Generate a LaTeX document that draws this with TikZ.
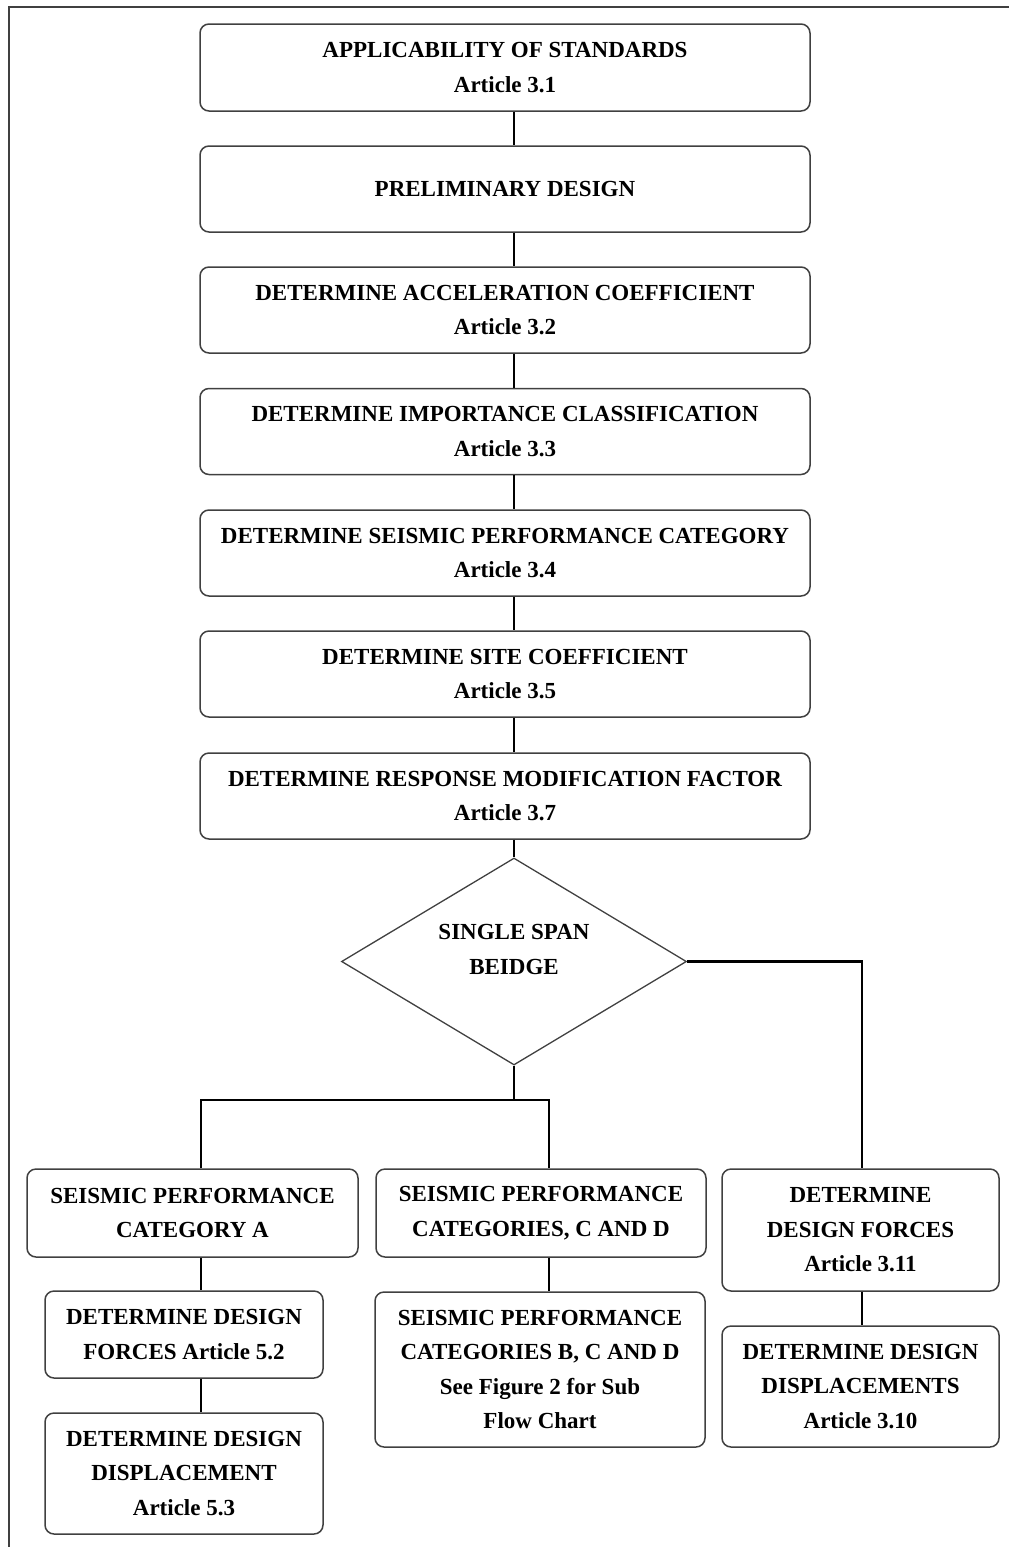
\documentclass[tikz,border=0pt]{standalone}
\usepackage{fontspec}
\setmainfont{Liberation Serif}
\usetikzlibrary{shapes.geometric,calc}

\tikzset{
  box/.style={draw=black!75, line width=1.5pt, rounded corners=9pt,
    inner sep=0pt, align=center,
    font=\fontsize{23}{34.5}\selectfont\bfseries},
  decision/.style={draw=black!75, line width=1.3pt, diamond, inner sep=0pt,
    minimum width=345pt, minimum height=207pt},
  conn/.style={draw=black, line width=2.8pt},
  frameline/.style={draw=black!75, line width=1.8pt},
  lbl/.style={align=center, font=\fontsize{23}{34.5}\selectfont\bfseries}
}

\begin{document}
\begin{tikzpicture}[x=1pt,y=-1pt]
\useasboundingbox (0,0) rectangle (1009,1547);

% outer frame (left and top edges)
\draw[frameline] (9,1547) -- (9,7) -- (1009,7);

% main column of steps
\node[box, minimum width=610pt, minimum height=87pt] (b1) at (505,67.5)
  {APPLICABILITY OF STANDARDS\\Article 3.1};
\node[box, minimum width=610pt, minimum height=86pt] (b2) at (505,189)
  {PRELIMINARY DESIGN};
\node[box, minimum width=610pt, minimum height=86pt] (b3) at (505,310)
  {DETERMINE ACCELERATION COEFFICIENT\\Article 3.2};
\node[box, minimum width=610pt, minimum height=86pt] (b4) at (505,431.5)
  {DETERMINE IMPORTANCE CLASSIFICATION\\Article 3.3};
\node[box, minimum width=610pt, minimum height=86pt] (b5) at (505,553)
  {DETERMINE SEISMIC PERFORMANCE CATEGORY\\Article 3.4};
\node[box, minimum width=610pt, minimum height=86pt] (b6) at (505,674)
  {DETERMINE SITE COEFFICIENT\\Article 3.5};
\node[box, minimum width=610pt, minimum height=86pt] (b7) at (505,796)
  {DETERMINE RESPONSE MODIFICATION FACTOR\\Article 3.7};

% decision
\node[decision] (dia) at (514,961.5) {};
\node[lbl] (dialbl) at ($(dia)+(0,-12)$) {SINGLE SPAN\\BEIDGE};

% left branch
\node[box, minimum width=331pt, minimum height=88pt] (ca) at (192.5,1213)
  {SEISMIC PERFORMANCE\\CATEGORY A};
\node[box, minimum width=278pt, minimum height=87pt] (f52) at (184,1334.5)
  {DETERMINE DESIGN\\FORCES Article 5.2};
\node[box, minimum width=278pt, minimum height=121pt] (d53) at (184,1473.5)
  {DETERMINE DESIGN\\DISPLACEMENT\\Article 5.3};

% middle branch
\node[box, minimum width=330pt, minimum height=88pt] (ccd) at (541,1213)
  {SEISMIC PERFORMANCE\\CATEGORIES, C AND D};
\node[box, minimum width=330pt, minimum height=155pt] (bcd) at (540,1369.5)
  {SEISMIC PERFORMANCE\\CATEGORIES B, C AND D\\See Figure 2 for Sub\\Flow Chart};

% right branch
\node[box, minimum width=277pt, minimum height=122pt] (f311) at (860.5,1230)
  {DETERMINE\\DESIGN FORCES\\Article 3.11};
\node[box, minimum width=277pt, minimum height=121pt] (d310) at (860.5,1386.5)
  {DETERMINE DESIGN\\DISPLACEMENTS\\Article 3.10};

% connector lanes
\coordinate (spine) at (514,0);
\coordinate (jn) at (514,1100);
\coordinate (jl) at (201,1100);
\coordinate (jm) at (549,1100);
\coordinate (rcol) at (862,0);

% connectors of the main column
\draw[conn] (b1.south -| spine) -- (b2.north -| spine);
\draw[conn] (b2.south -| spine) -- (b3.north -| spine);
\draw[conn] (b3.south -| spine) -- (b4.north -| spine);
\draw[conn] (b4.south -| spine) -- (b5.north -| spine);
\draw[conn] (b5.south -| spine) -- (b6.north -| spine);
\draw[conn] (b6.south -| spine) -- (b7.north -| spine);
\draw[conn] (b7.south -| spine) -- (dia.north);

% split below the decision
\draw[conn] (dia.south) -- (jn);
\draw[conn] (ca.north -| jl) -- (jl) -- (jm) -- (ccd.north -| jm);
\draw[conn] (dia.east) -| (f311.north -| rcol);

% branch columns
\draw[conn] (ca.south -| jl) -- (f52.north -| jl);
\draw[conn] (f52.south -| jl) -- (d53.north -| jl);
\draw[conn] (ccd.south -| jm) -- (bcd.north -| jm);
\draw[conn] (f311.south -| rcol) -- (d310.north -| rcol);
\end{tikzpicture}
\end{document}
